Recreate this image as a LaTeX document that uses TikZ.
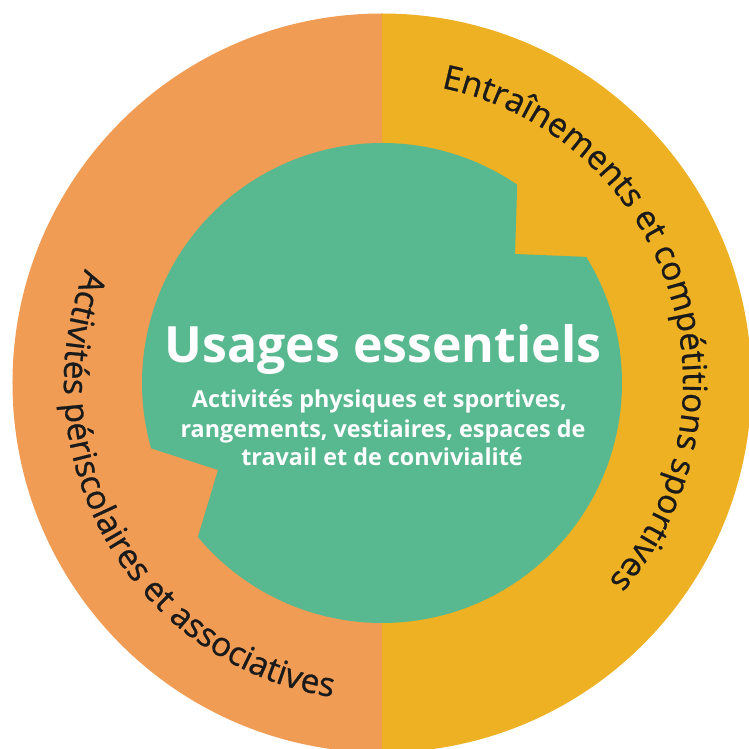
\documentclass[tikz,border=0pt]{standalone}
\usepackage{fontspec}
\usetikzlibrary{decorations.text}
\newfontfamily\ringfont[FakeBold=0.8]{Open Sans}
\newfontfamily\corefont{Open Sans}
\definecolor{ringorange}{HTML}{F09C55}
\definecolor{ringyellow}{HTML}{EDB123}
\definecolor{coregreen}{HTML}{58B88F}
\definecolor{inktext}{HTML}{1A1A1A}
\tikzset{
  titletext/.style={anchor=base, inner sep=0pt, text=white,
    font=\corefont\bfseries\fontsize{37.5}{40}\selectfont},
  subtext/.style={anchor=base, inner sep=0pt, text=white,
    font=\corefont\bfseries\fontsize{17.5}{21}\selectfont},
  ringlabel/.style={decorate, decoration={text along path, text align=center,
    text color=inktext, text={#1}}}
}
\begin{document}
\begin{tikzpicture}[x=0.75pt,y=0.75pt]
\useasboundingbox (-382,-366) rectangle (367,383);
\clip (-382,-366) rectangle (367,383);
% outer ring halves
\fill[ringorange] (0,0) -- (90:369.5) arc[start angle=90, end angle=270, radius=369.5] -- cycle;
\fill[ringyellow] (0,0) -- (90:369.5) arc[start angle=90, end angle=-90, radius=369.5] -- cycle;
% core with two notches
\coordinate (topin) at (133,129);
\coordinate (leftin) at (-164,-87);
\fill[coregreen] (55.7:240) arc[start angle=55.7, end angle=195.8, radius=240]
  -- (leftin) -- (219.9:240) arc[start angle=219.9, end angle=391.7, radius=240]
  -- (topin) -- cycle;
% centre texts
\node[titletext] (title) at (1,20) {Usages essentiels};
\node[subtext] (sub1) at (-2.5,-25) {Activités physiques et sportives,};
\node[subtext] (sub2) at (1,-54) {rangements, vestiaires, espaces de};
\node[subtext] (sub3) at (0,-82) {travail et de convivialité};
% ring texts
\path[ringlabel={|\ringfont\fontsize{25}{30}\selectfont|Entraînements et compétitions sportives}]
  (108.75:301) arc[start angle=108.75, end angle=-71.25, radius=301];
\path[ringlabel={|\ringfont\fontsize{25}{30}\selectfont|Activités périscolaires et associatives}]
  (120:318) arc[start angle=120, end angle=300, radius=318];
\end{tikzpicture}
\end{document}
